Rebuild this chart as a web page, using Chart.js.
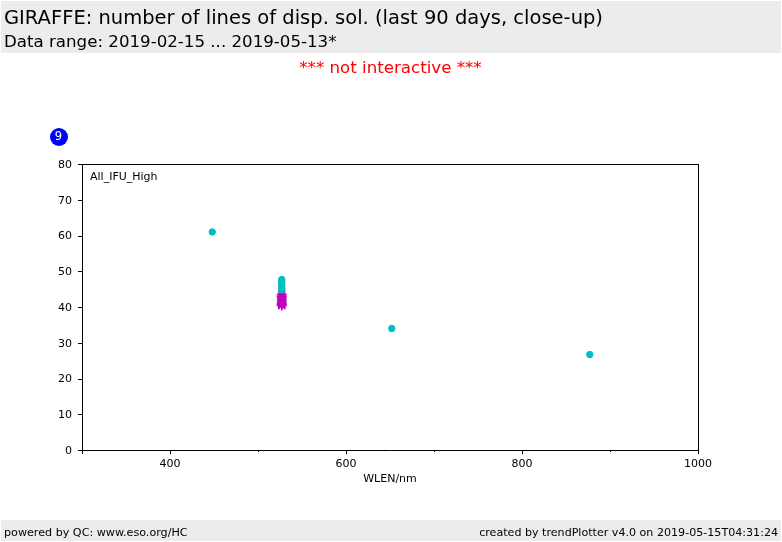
<!DOCTYPE html>
<html>
<head>
<meta charset="utf-8">
<style>
html, body { margin: 0; padding: 0; background: #fff; }
body { width: 782px; height: 542px; overflow: hidden; position: relative; font-family: "DejaVu Sans", sans-serif; }
.band { position: absolute; left: 1px; width: 780px; background: #ececec; }
.txt { position: absolute; white-space: nowrap; }
#chartbox { position: absolute; left: 0; top: 0; width: 782px; height: 542px; }
</style>
<script src="https://cdn.jsdelivr.net/npm/chart.js@4"></script>
</head>
<body>
<div class="band" style="top:1px;height:52px"></div>
<div class="band" style="top:520px;height:21px"></div>
<div id="chartbox"><canvas id="lines" width="782" height="542"></canvas></div>
<div class="txt" style="left:4px;top:6px;font-size:19.5px">GIRAFFE: number of lines of disp. sol. (last 90 days, close-up)</div>
<div class="txt" style="left:4px;top:32px;font-size:16.65px">Data range: 2019-02-15 ... 2019-05-13*</div>
<div class="txt" style="left:0;width:781px;text-align:center;top:58px;font-size:16.65px;color:#f00">*** not interactive ***</div>
<div class="txt" style="left:4px;top:526px;font-size:11.15px">powered by QC: www.eso.org/HC</div>
<div class="txt" style="right:4px;top:526px;font-size:11.1px">created by trendPlotter v4.0 on 2019-05-15T04:31:24</div>
<div class="txt" style="left:49.5px;top:127.5px;width:18px;height:18px;line-height:17px;border-radius:50%;background:#00f;color:#fff;font-size:11.5px;text-align:center">9</div>

<script>
// cyan = all lines, magenta = close-up group around 525 nm
const wlenCyan = [448, 652, 877, 527, 527, 527, 527, 527, 527, 527];
const linesCyan = [61, 34, 26.7, 47.7, 47.2, 46.6, 46, 45.5, 45, 44.8];
const wlenMagenta = [527, 527, 527, 527, 527, 527, 527, 527];
const linesMagenta = [43.5, 43, 42.5, 42, 41.5, 41, 40.7, 40.4];
const labelTicksX = [400, 600, 800, 1000];
const panelLabel = 'All_IFU_High';

function toXY(xs, ys) {
    return xs.map(function (x, i) { return { x: x, y: ys[i] }; });
}

// hand drawn ticks, chart.js can't do a shorter length for minor ticks
const tickPlugin = {
    id: 'ticks',
    afterDraw: function (chart) {
        const c = chart.ctx;
        const a = chart.chartArea;
        c.save();
        c.strokeStyle = '#000';
        c.lineWidth = 1;
        c.beginPath();
        chart.scales.x.ticks.forEach(function (t) {
            const px = Math.round(chart.scales.x.getPixelForValue(t.value)) + 0.5;
            const len = labelTicksX.includes(t.value) || t.value === 300 ? 4 : 2;
            c.moveTo(px, a.bottom);
            c.lineTo(px, a.bottom + len);
        });
        chart.scales.y.ticks.forEach(function (t) {
            const py = Math.round(chart.scales.y.getPixelForValue(t.value)) + 0.5;
            c.moveTo(a.left, py);
            c.lineTo(a.left - 4, py);
        });
        // frame, top and right sides too
        c.moveTo(a.left, a.top + 0.5);
        c.lineTo(a.right, a.top + 0.5);
        c.moveTo(a.right + 0.5, a.top);
        c.lineTo(a.right + 0.5, a.bottom);
        c.stroke();
        c.fillStyle = '#000';
        c.font = '11px "DejaVu Sans"';
        c.textBaseline = 'middle';
        c.fillText(panelLabel, a.left + 8, a.top + 13);
        c.restore();
    }
};

new Chart(document.getElementById('lines').getContext('2d'), {
    type: 'scatter',
    data: {
        datasets: [{
            label: 'cyan',
            data: toXY(wlenCyan, linesCyan),
            backgroundColor: '#00bfbf',
            borderColor: '#00bfbf',
            pointRadius: 3.2,
            order: 0
        }, {
            label: 'magenta',
            data: toXY(wlenMagenta, linesMagenta),
            backgroundColor: '#bf00bf',
            borderColor: '#bf00bf',
            pointStyle: 'star',
            pointRadius: 5,
            pointBorderWidth: 1.5,
            order: 1
        }]
    },
    plugins: [tickPlugin],
    options: {
        responsive: false,
        animation: false,
        layout: { padding: { left: 0, right: 84, top: 164, bottom: 56 } },
        plugins: { legend: { display: false }, tooltip: { enabled: false } },
        scales: {
            x: {
                type: 'linear',
                min: 300,
                max: 1000,
                afterFit: function (s) { s.height = 36; },
                grid: { display: false },
                border: { color: '#000', width: 1 },
                title: { display: true, text: 'WLEN/nm', color: '#000', font: { family: 'DejaVu Sans', size: 11 }, padding: { top: 2, bottom: 0 } },
                ticks: {
                    stepSize: 100,
                    color: '#000',
                    maxRotation: 0,
                    autoSkip: false,
                    padding: 0,
                    font: { family: 'DejaVu Sans', size: 11 },
                    callback: function (v) { return labelTicksX.includes(v) ? String(v) : ''; }
                }
            },
            y: {
                min: 0,
                max: 80,
                afterFit: function (s) { s.width = 82; },
                grid: { display: false },
                border: { color: '#000', width: 1 },
                ticks: {
                    stepSize: 10,
                    color: '#000',
                    padding: 2,
                    labelOffset: 1,
                    font: { family: 'DejaVu Sans', size: 11 }
                }
            }
        }
    }
});
</script>
</body>
</html>
